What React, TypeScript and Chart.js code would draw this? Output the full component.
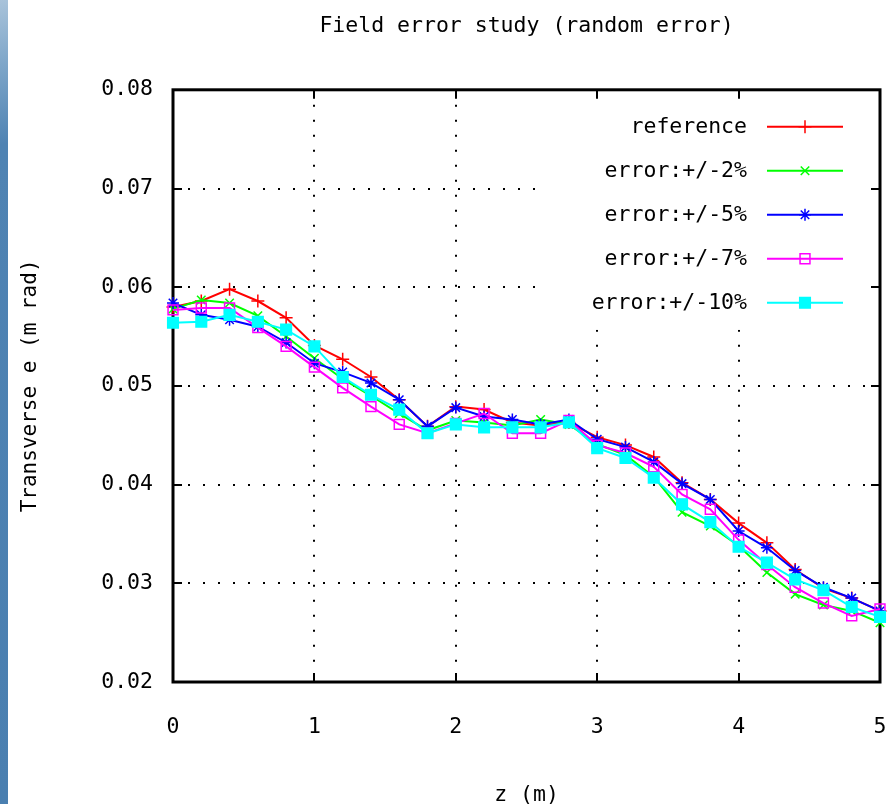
import React, { useEffect, useRef } from "react";
import { Chart, registerables } from "chart.js";
import { drawPoint } from "chart.js/helpers";

Chart.register(...registerables);

// ---- data ----
const Z = [0, 0.2, 0.4, 0.6, 0.8, 1.0, 1.2, 1.4, 1.6, 1.8, 2.0, 2.2, 2.4, 2.6, 2.8, 3.0, 3.2, 3.4, 3.6, 3.8, 4.0, 4.2, 4.4, 4.6, 4.8, 5.0];

const REFERENCE = [0.0580, 0.0586, 0.0598, 0.0586, 0.0569, 0.0541, 0.0527, 0.0509, 0.0486, 0.0459, 0.0479, 0.0476, 0.0463, 0.0460, 0.0463, 0.0448, 0.0440, 0.0428, 0.0402, 0.0385, 0.0361, 0.0341, 0.0314, 0.0295, 0.0285, 0.0272];
const ERR2 = [0.0578, 0.0587, 0.0584, 0.0571, 0.0550, 0.0528, 0.0507, 0.0490, 0.0472, 0.0455, 0.0465, 0.0463, 0.0460, 0.0466, 0.0461, 0.0441, 0.0430, 0.0408, 0.0372, 0.0358, 0.0338, 0.0311, 0.0289, 0.0278, 0.0272, 0.0260];
const ERR5 = [0.0584, 0.0572, 0.0567, 0.0560, 0.0544, 0.0523, 0.0514, 0.0503, 0.0486, 0.0459, 0.0478, 0.0469, 0.0466, 0.0461, 0.0466, 0.0446, 0.0438, 0.0423, 0.0401, 0.0385, 0.0353, 0.0336, 0.0313, 0.0296, 0.0285, 0.0272];
const ERR7 = [0.0577, 0.0579, 0.0579, 0.0559, 0.0540, 0.0519, 0.0498, 0.0479, 0.0461, 0.0452, 0.0462, 0.0472, 0.0452, 0.0452, 0.0465, 0.0440, 0.0432, 0.0418, 0.0390, 0.0375, 0.0344, 0.0319, 0.0296, 0.0280, 0.0267, 0.0274];
const ERR10 = [0.0564, 0.0565, 0.0572, 0.0565, 0.0557, 0.0540, 0.0509, 0.0491, 0.0476, 0.0452, 0.0461, 0.0458, 0.0458, 0.0458, 0.0463, 0.0437, 0.0427, 0.0407, 0.0380, 0.0362, 0.0337, 0.0321, 0.0304, 0.0293, 0.0276, 0.0266];

const LABELS = ["reference", "error:+/-2%", "error:+/-5%", "error:+/-7%", "error:+/-10%"];
const SERIES = [REFERENCE, ERR2, ERR5, ERR7, ERR10];

const TITLE = "Field error study (random error)";
const X_TITLE = "z (m)";
const Y_TITLE = "Transverse e (m rad)";
const X_MIN = 0, X_MAX = 5, X_STEP = 1;
const Y_MIN = 0.02, Y_MAX = 0.08, Y_STEP = 0.01;

// ---- styles ----
const COLORS = ["#ff0000", "#00ff00", "#0000ff", "#ff00ff", "#00ffff"];
const POINT_STYLES = ["cross", "crossRot", "star", "rect", "rect"];
const POINT_FILL = ["#ff0000", "#00ff00", "#0000ff", "rgba(0,0,0,0)", "#00ffff"];
const POINT_RADIUS = [6.5, 6, 6, 7, 7.5];
const MONO = "'DejaVu Sans Mono', monospace";

const framePlugin = {
  id: "gnuframe",
  beforeDatasetsDraw(chart: any) {
    const { ctx, chartArea: a, scales } = chart;
    ctx.save();
    // blank area behind the key
    ctx.fillStyle = "#ffffff";
    ctx.fillRect(a.right - 336, a.top + 2, 333, 238);
    // border
    ctx.strokeStyle = "#000";
    ctx.lineWidth = 3;
    ctx.strokeRect(a.left, a.top, a.right - a.left, a.bottom - a.top);
    // inward ticks
    ctx.lineWidth = 2;
    ctx.beginPath();
    for (const t of scales.y.ticks) {
      const py = Math.round(scales.y.getPixelForValue(t.value));
      ctx.moveTo(a.left, py);
      ctx.lineTo(a.left + 9, py);
      ctx.moveTo(a.right, py);
      ctx.lineTo(a.right - 9, py);
    }
    for (const t of scales.x.ticks) {
      const px = Math.round(scales.x.getPixelForValue(t.value));
      ctx.moveTo(px, a.bottom);
      ctx.lineTo(px, a.bottom - 9);
      ctx.moveTo(px, a.top);
      ctx.lineTo(px, a.top + 9);
    }
    ctx.stroke();
    ctx.restore();
  },
  afterDatasetsDraw(chart: any) {
    const { ctx, chartArea: a } = chart;
    ctx.save();
    ctx.font = `21.5px ${MONO}`;
    ctx.textAlign = "right";
    ctx.textBaseline = "middle";
    chart.data.datasets.forEach((ds: any, i: number) => {
      const y = a.top + 37 + i * 44;
      ctx.fillStyle = "#000";
      ctx.fillText(ds.label, a.right - 133, y + 1);
      ctx.strokeStyle = ds.borderColor;
      ctx.lineWidth = 2;
      ctx.beginPath();
      ctx.moveTo(a.right - 113, y);
      ctx.lineTo(a.right - 37, y);
      ctx.stroke();
      ctx.fillStyle = ds.pointBackgroundColor;
      ctx.strokeStyle = ds.borderColor;
      ctx.lineWidth = 1.5;
      drawPoint(ctx, { pointStyle: ds.pointStyle, radius: ds.pointRadius, rotation: 0, borderWidth: 1.5 }, a.right - 75, y);
    });
    ctx.restore();
  },
};

export default function App() {
  const ref = useRef<HTMLCanvasElement>(null);
  useEffect(() => {
    document.body.style.margin = "0";
    const canvas = ref.current!;
    const datasets = SERIES.map((vals, i) => ({
      label: LABELS[i],
      data: Z.map((z, k) => ({ x: z, y: vals[k] })),
      borderColor: COLORS[i],
      backgroundColor: COLORS[i],
      pointBackgroundColor: POINT_FILL[i],
      pointBorderColor: COLORS[i],
      pointStyle: POINT_STYLES[i],
      pointRadius: POINT_RADIUS[i],
      pointBorderWidth: 1.5,
      borderWidth: 2,
      tension: 0,
      clip: false as any,
      order: SERIES.length - i,
    }));
    const chart = new Chart(canvas, {
      type: "line",
      data: { datasets },
      plugins: [framePlugin],
      options: {
        responsive: false,
        animation: false,
        devicePixelRatio: 1,
        layout: { padding: { left: 0, right: 10, top: 0, bottom: 0 } },
        plugins: {
          legend: { display: false },
          tooltip: { enabled: false },
          title: {
            display: true,
            text: TITLE,
            fullSize: false,
            color: "#000",
            font: { family: MONO, size: 21.5, weight: "normal", lineHeight: 1.2 },
            padding: { top: 14, bottom: 50 },
          },
        },
        scales: {
          x: {
            type: "linear",
            min: X_MIN,
            max: X_MAX,
            ticks: {
              stepSize: X_STEP,
              color: "#000",
              font: { family: MONO, size: 21.5 },
              padding: 33,
              maxRotation: 0,
            },
            grid: {
              color: (c: any) => (c.tick && (c.tick.value <= X_MIN || c.tick.value >= X_MAX) ? "rgba(0,0,0,0)" : "#000"),
              lineWidth: 2,
              drawTicks: false,
            },
            border: { display: false, dash: [2, 13] },
            title: {
              display: true,
              text: X_TITLE,
              color: "#000",
              font: { family: MONO, size: 21.5, lineHeight: 1 },
              padding: { top: 0, bottom: -2 },
            },
            afterFit: (s: any) => {
              s.height = 122;
              s.paddingRight = 0;
              s.paddingLeft = 0;
            },
          },
          y: {
            type: "linear",
            min: Y_MIN,
            max: Y_MAX,
            ticks: {
              stepSize: Y_STEP,
              color: "#000",
              font: { family: MONO, size: 21.5 },
              padding: 20,
              callback: (v: any) => Number(v).toFixed(2),
            },
            grid: {
              color: (c: any) => (c.tick && (c.tick.value <= Y_MIN + 1e-9 || c.tick.value >= Y_MAX - 1e-9) ? "rgba(0,0,0,0)" : "#000"),
              lineWidth: 2,
              drawTicks: false,
            },
            border: { display: false, dash: [2, 13] },
            title: {
              display: true,
              text: Y_TITLE,
              color: "#000",
              font: { family: MONO, size: 21, lineHeight: 1.2 },
              padding: { top: 18, bottom: 0 },
            },
            afterFit: (s: any) => { s.width = 173; },
          },
        },
      },
    });
    return () => chart.destroy();
  }, []);
  return (
    <div style={{ position: "relative", width: 890, height: 804, background: "#fff", overflow: "hidden" }}>
      <div
        style={{
          position: "absolute",
          left: 0,
          top: 0,
          width: 8,
          height: 804,
          background: "linear-gradient(170deg, #a9c3da 0%, #7ea6c9 8%, #4f83b3 18%, #4a7fb0 100%)",
        }}
      />
      <canvas ref={ref} width={890} height={804} style={{ position: "absolute", left: 0, top: 0, width: 890, height: 804 }} />
    </div>
  );
}
